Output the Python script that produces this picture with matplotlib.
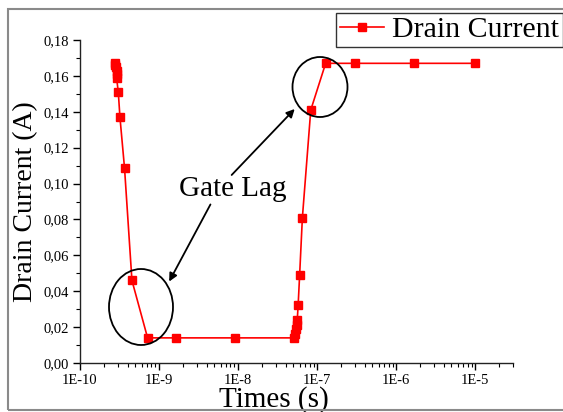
import matplotlib
matplotlib.use("Agg")
import matplotlib.pyplot as plt
import matplotlib.ticker as mticker
from matplotlib.patches import Ellipse, Rectangle
from matplotlib.transforms import IdentityTransform
import numpy as np

plt.rcParams['font.family'] = ['Liberation Serif', 'DejaVu Serif']

# Data (time in s, drain current in A)
times = [2.75e-10, 2.8e-10, 2.85e-10, 2.9e-10, 2.95e-10, 2.9e-10,
         3.05e-10, 3.2e-10, 3.66e-10, 4.54e-10, 7.16e-10, 1.63e-9, 9.1e-9,
         5.1e-8, 5.3e-8, 5.4e-8, 5.5e-8, 5.6e-8, 5.75e-8, 6.0e-8, 6.5e-8,
         8.3e-8, 1.28e-7, 3.05e-7, 1.7e-6, 1.0e-5]
current = [0.167, 0.166, 0.165, 0.163, 0.161, 0.159,
           0.151, 0.137, 0.1085, 0.046, 0.014, 0.014, 0.014,
           0.014, 0.016, 0.019, 0.021, 0.024, 0.0325, 0.049, 0.081,
           0.141, 0.167, 0.167, 0.167, 0.167]

y_ticks = [0.00, 0.02, 0.04, 0.06, 0.08, 0.10, 0.12, 0.14, 0.16, 0.18]
x_ticks = [1e-10, 1e-9, 1e-8, 1e-7, 1e-6, 1e-5]
x_ticklabels = ["1E-10", "1E-9", "1E-8", "1E-7", "1E-6", "1E-5"]

W, H = 563, 412
fig = plt.figure(figsize=(W / 100, H / 100), dpi=100)
ax = fig.add_axes([80 / W, 1 - 363 / H, (513 - 80) / W, (363 - 40) / H])

ax.plot(times, current, color='red', lw=1.2, marker='s', ms=6,
        mec='red', mfc='red', label='Drain Current')

ax.set_xscale('log')
ax.set_xlim(1e-10, 3e-5)
ax.set_ylim(0, 0.18)
ax.set_xticks(x_ticks)
ax.set_xticklabels(x_ticklabels)
ax.xaxis.set_minor_locator(mticker.LogLocator(base=10, subs=np.arange(2, 10), numticks=20))
ax.xaxis.set_minor_formatter(mticker.NullFormatter())
ax.set_yticks(y_ticks)
ax.set_yticklabels([f"{v:.2f}".replace('.', ',') for v in y_ticks])
ax.yaxis.set_minor_locator(mticker.MultipleLocator(0.01))

for s in ['top', 'right']:
    ax.spines[s].set_visible(False)
for s in ['left', 'bottom']:
    ax.spines[s].set_linewidth(1.0)
    ax.spines[s].set_color('#222222')

ax.tick_params(which='major', direction='out', length=5, width=1, labelsize=10.5, pad=3)
ax.tick_params(which='minor', direction='out', length=3, width=0.8)

ax.set_ylabel('Drain Current (A)', fontsize=20, labelpad=4)
ax.set_xlabel('Times (s)', fontsize=21)
ax.xaxis.set_label_coords((274 - 80) / 433, (363 - 386) / 323)


def px_to_data(px, py):
    lx = -10 + (px - 80) / 79.2
    return 10 ** lx, (363 - py) / (323 / 0.18)


for (cx, cy, w, h) in [(141, 307, 64, 76), (320, 87, 55, 60)]:
    e = Ellipse((cx, H - cy), w, h, transform=IdentityTransform(), fill=False,
                edgecolor='black', lw=1.3)
    fig.add_artist(e)

ax.text(*px_to_data(233, 189), 'Gate Lag', fontsize=21, ha='center', va='center')
ax.annotate('', xy=px_to_data(168, 284), xytext=px_to_data(212, 202),
            arrowprops=dict(arrowstyle='-|>', color='black', lw=1.3, mutation_scale=12))
ax.annotate('', xy=px_to_data(297, 107), xytext=px_to_data(230, 177),
            arrowprops=dict(arrowstyle='-|>', color='black', lw=1.3, mutation_scale=12))

leg = fig.legend(loc='upper right', bbox_to_anchor=(562.5 / W, 1 - 12.5 / H),
                 fontsize=21.5, frameon=True, fancybox=False, handlelength=1.5,
                 handletextpad=0.25, borderpad=0.12, borderaxespad=0)
leg.get_frame().set_edgecolor('black')
leg.get_frame().set_linewidth(1.0)

# Figure border
fig.add_artist(Rectangle((8 / W, 2 / H), 1.2, (410 - 9) / H, transform=fig.transFigure,
                         fill=False, edgecolor='#8a8a8a', lw=1.5, clip_on=False))

fig.savefig('out.png', dpi=100)
